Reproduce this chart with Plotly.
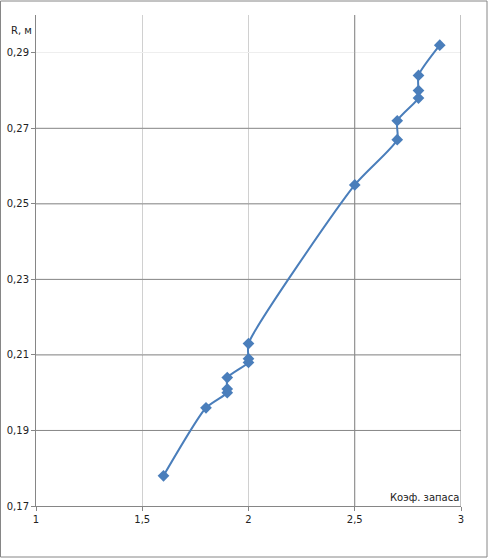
import plotly.graph_objects as go

# Data
koef = [1.6, 1.8, 1.9, 1.9, 1.9, 2.0, 2.0, 2.0, 2.5, 2.7, 2.7, 2.8, 2.8, 2.8, 2.9]
radius = [0.178, 0.196, 0.200, 0.201, 0.204, 0.208, 0.209, 0.213, 0.255,
          0.267, 0.272, 0.278, 0.280, 0.284, 0.292]

x_ticks = [1, 1.5, 2, 2.5, 3]
y_ticks = [0.17, 0.19, 0.21, 0.23, 0.25, 0.27, 0.29]
dark_x_grid = [2.5, 3]
dark_y_grid = [0.19, 0.21, 0.23, 0.25, 0.27]

blue = "#4a7ebb"
font = "DejaVu Sans"
dark = "#868686"

fig = go.Figure()
fig.add_trace(go.Scatter(
    x=koef, y=radius, mode="lines+markers",
    line=dict(color=blue, width=2, shape="spline", smoothing=0.6),
    marker=dict(symbol="diamond", size=9, color=blue),
    showlegend=False, hoverinfo="skip",
))

shapes = []
for gx in dark_x_grid:
    shapes.append(dict(type="line", xref="x", yref="y", x0=gx, x1=gx,
                       y0=0.17, y1=0.30, line=dict(color=dark, width=1),
                       layer="between"))
for gy in dark_y_grid:
    shapes.append(dict(type="line", xref="x", yref="y", x0=1, x1=3,
                       y0=gy, y1=gy, line=dict(color=dark, width=1),
                       layer="between"))
shapes.append(dict(type="rect", xref="paper", yref="paper",
                   x0=-35.5/425, x1=1+26/425, y0=-51/491, y1=1+14/491,
                   line=dict(color=dark, width=1)))

fig.update_layout(
    width=488, height=558,
    margin=dict(l=36, r=27, t=15, b=52),
    plot_bgcolor="white", paper_bgcolor="white",
    separators=", ",
    font=dict(family=font, size=10, color="#222222"),
    xaxis=dict(range=[1, 3], tickvals=x_ticks, tickformat=".1~f",
               showgrid=True, gridcolor="#d0d0d0", gridwidth=1,
               showline=True, linecolor=dark, linewidth=1,
               ticks="outside", ticklen=4, tickcolor=dark,
               zeroline=False, fixedrange=True, automargin=False),
    yaxis=dict(range=[0.17, 0.30], tickvals=y_ticks, tickformat=".2f",
               showgrid=True, gridcolor="#eeeeee", gridwidth=1,
               showline=True, linecolor=dark, linewidth=1,
               ticks="outside", ticklen=4, tickcolor=dark,
               zeroline=False, fixedrange=True, automargin=False),
    shapes=shapes,
    annotations=[
        dict(text="R, м", xref="paper", yref="paper", x=-2/425, y=1 - 16/491,
             xanchor="right", yanchor="middle", showarrow=False,
             font=dict(family=font, size=10, color="#222222")),
        dict(text="Коэф. запаса", xref="paper", yref="paper", x=1, y=9/491,
             xanchor="right", yanchor="middle", showarrow=False,
             font=dict(family=font, size=10, color="#222222")),
    ],
)

fig.write_html(
    "out.html",
    config={"displayModeBar": False},
    post_script="document.body.style.margin='0';document.body.style.overflow='hidden';",
)
